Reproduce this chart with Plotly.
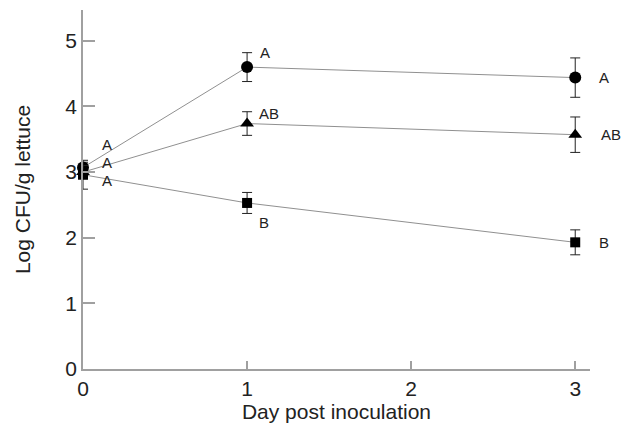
import plotly.graph_objects as go

days = [0, 1, 3]
circle_vals = [3.07, 4.60, 4.44]
circle_err = [0.08, 0.22, 0.30]
triangle_vals = [3.00, 3.74, 3.57]
triangle_err = [0.10, 0.18, 0.27]
square_vals = [2.96, 2.53, 1.93]
square_err = [0.22, 0.16, 0.19]

circle_labels = ["A", "A", "A"]
triangle_labels = ["A", "AB", "AB"]
square_labels = ["A", "B", "B"]

fig = go.Figure()
series = [
    (circle_vals, circle_err, "circle", 12),
    (triangle_vals, triangle_err, "triangle-up", 12),
    (square_vals, square_err, "square", 10),
]
for vals, err, sym, sz in series:
    fig.add_trace(go.Scatter(
        x=days, y=vals, mode="lines+markers",
        line=dict(color="#909090", width=1),
        marker=dict(symbol=sym, size=sz, color="black"),
        error_y=dict(type="data", array=err, color="#222", thickness=1, width=5),
        cliponaxis=False, showlegend=False,
    ))

FONT = "Liberation Sans, Arial"
font_lbl = dict(family=FONT, size=15, color="#222")
# label offsets (px) per series per day
offsets = {
    "c": [(24, -23), (18, -15), (29, 0)],
    "t": [(24, -10), (22, -10), (36, 0)],
    "s": [(24, 6), (17, 20), (29, 0)],
}
for key, vals, labels in [("c", circle_vals, circle_labels),
                          ("t", triangle_vals, triangle_labels),
                          ("s", square_vals, square_labels)]:
    for i, (d, v, lab) in enumerate(zip(days, vals, labels)):
        dx, dy = offsets[key][i]
        fig.add_annotation(x=d, y=v, text=lab, showarrow=False,
                           xshift=dx, yshift=-dy, font=font_lbl)

axis_common = dict(
    showgrid=False, zeroline=False, showline=True, linecolor="#a0a0a0", linewidth=1.5,
    ticks="inside", tickcolor="#a0a0a0", tickwidth=1.5, automargin=False,
    tickfont=dict(family=FONT, size=21, color="#222"),
    title_font=dict(family=FONT, size=21, color="#222"),
)
fig.update_xaxes(range=[0, 3.09], tickvals=[0, 1, 2, 3], ticklen=8,
                 title_text="Day post inoculation", title_standoff=2, **axis_common)
fig.update_yaxes(range=[0, 5.47], tickvals=[0, 1, 2, 3, 4, 5], ticklen=12,
                 title_text="Log CFU/g lettuce", title_standoff=29, **axis_common)
fig.update_layout(
    width=625, height=424, margin=dict(l=83, r=35, t=10, b=55),
    plot_bgcolor="white", paper_bgcolor="white",
)
fig.write_html(
    "out.html",
    config={"displayModeBar": False},
    post_script="document.body.style.margin='0';document.body.style.overflow='hidden';",
)
